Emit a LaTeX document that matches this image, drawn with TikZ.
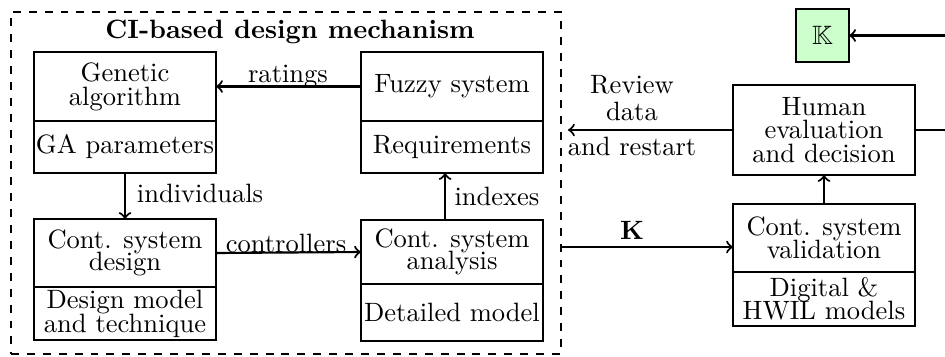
\documentclass[tikz,border=0pt]{standalone}
\usepackage{amssymb}
\definecolor{kgreen}{HTML}{CCFFCC}
\begin{document}
\begin{tikzpicture}[x=0.377pt,y=-0.377pt,
  part/.style={draw,thick,rectangle,inner sep=0pt,outer sep=0pt,align=center,minimum width=68.6pt},
  conn/.style={thick,->},
  lbl/.style={inner sep=0pt,align=center}]
\useasboundingbox (0,0) rectangle (945,356);
% dashed frame
\node[draw,thick,dashed,inner sep=0pt,outer sep=0pt,minimum width=207.4pt,minimum height=128.9pt] (ci) at (286,183) {};
\node[lbl] (title) at (290,32) {\bfseries CI-based design mechanism};
% GA
\node[part,minimum height=26pt] (gt) at (125,86.5) {Genetic\\[-3pt]algorithm};
\node[part,minimum height=19.6pt,anchor=north] (gb) at (gt.south) {GA parameters};
% Fuzzy
\node[part,minimum height=26pt] (ft) at (452,86.5) {Fuzzy system};
\node[part,minimum height=19.6pt,anchor=north] (fb) at (ft.south) {Requirements};
% Design
\node[part,minimum height=25.6pt] (dt) at (125,253) {Cont. system\\[-3.5pt]design};
\node[part,minimum height=20pt,anchor=north] (db) at (dt.south) {Design model\\[-3pt]and technique};
% Analysis
\node[part,minimum height=24.1pt] (at) at (452,252) {Cont. system\\[-3.5pt]analysis};
\node[part,minimum height=21.5pt,anchor=north] (ab) at (at.south) {Detailed model};
% Right side
\node[part,minimum width=20pt,minimum height=20pt,fill=kgreen] (kb) at (822.5,35.5) {$\mathbb{K}$};
\node[part,minimum height=33.9pt] (hu) at (824,130) {Human\\[-3pt]evaluation\\[-3pt]and decision};
\node[part,minimum height=25.6pt] (vt) at (824,238) {Cont. system\\[-3.5pt]validation};
\node[part,minimum height=20.4pt,anchor=north] (vb) at (vt.south) {Digital \&~\\[-3.5pt]HWIL models};
% connectors
\draw[conn] (ft.west) -- (gt.east);
\node[lbl] (lrat) at (288,77) {ratings};
\draw[conn] (gb.south) -- (dt.north);
\node[lbl] (lind) at (200,193) {individuals};
\draw[conn] (dt.east) -- (at.west);
\node[lbl] (lcon) at (286,243) {controllers};
\coordinate (ix) at ([xshift=-2.6pt]at.north);
\draw[conn] (ix) -- (ix |- fb.south);
\node[lbl] (lidx) at (497,196) {indexes};
\coordinate (kin) at ([yshift=-3.4pt]vt.west);
\draw[conn] (kin -| ci.east) -- (kin);
\node[lbl] (lk) at (632,230) {$\mathbf{K}$};
\draw[conn] (vt.north) -- (hu.south);
\coordinate (rv) at ([xshift=2.6pt]ci.east);
\draw[conn] (hu.west) -- (rv |- hu.west);
\node[lbl] (lrev) at (632,98) {Review\\[-2pt]data};
\node[lbl] (lres) at (632,146) {and restart};
\coordinate (far) at (960,127);
\draw[conn] (hu.east) -- (hu.east -| far) |- (kb.east);
\end{tikzpicture}
\end{document}
